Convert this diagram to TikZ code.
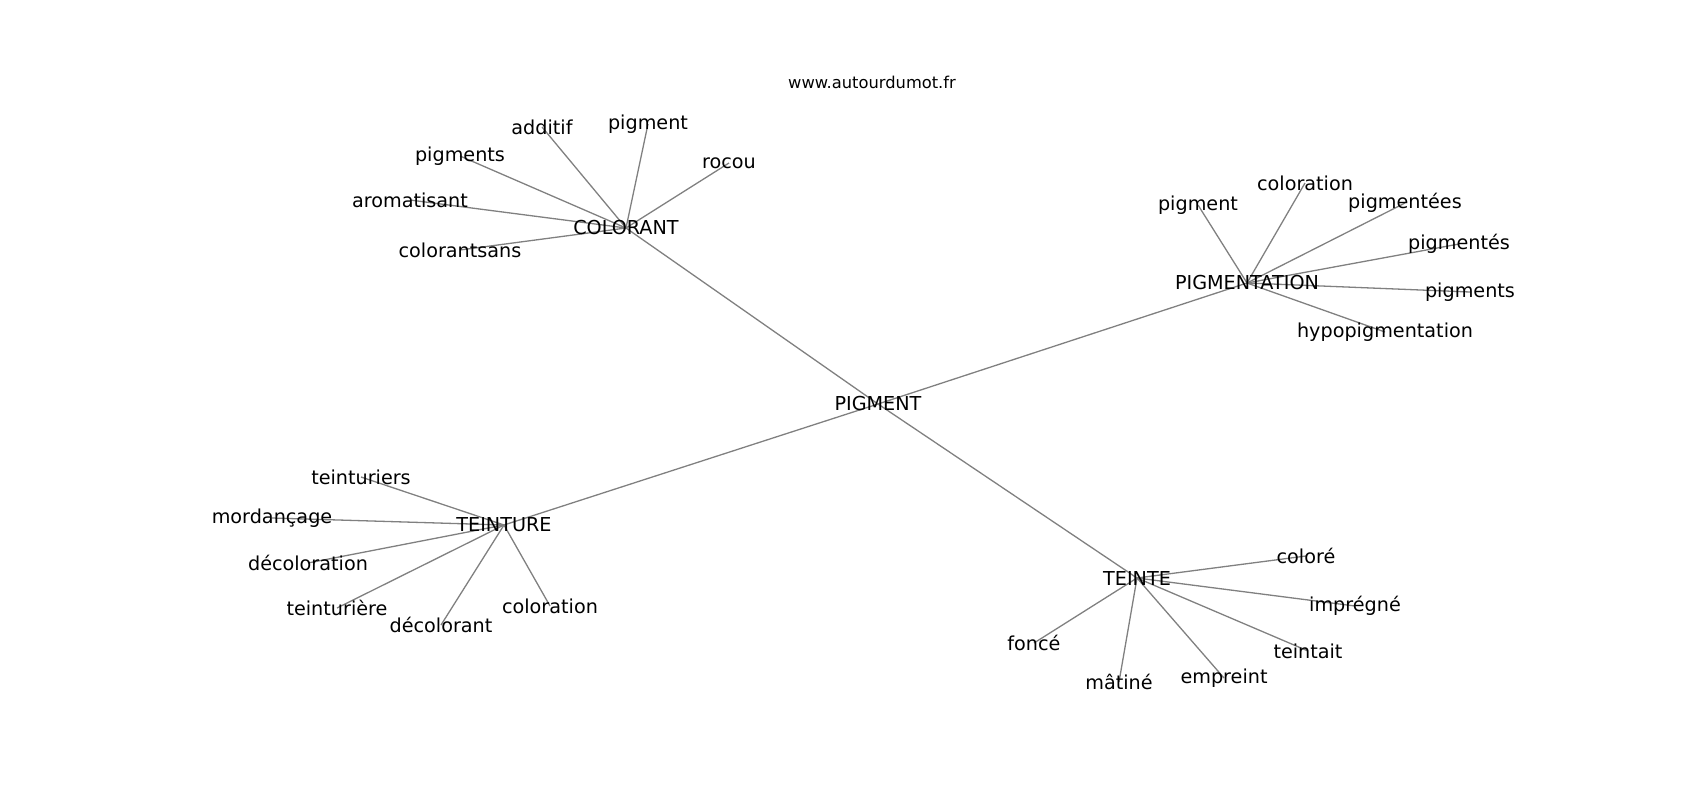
\documentclass[tikz,border=0pt]{standalone}
\usepackage{fontspec}
\setmainfont{DejaVu Sans}
\usetikzlibrary{backgrounds}
\tikzset{
  word/.style={inner sep=0pt, font=\fontsize{19.2}{23}\selectfont},
  hub/.style={word},
  link/.style={draw=gray, line width=1.3pt}
}
\begin{document}
\begin{tikzpicture}[x=1pt, y=-1pt]
\useasboundingbox (0,0) rectangle (1700,800);

	\node (site) [font=\fontsize{16.3}{20}\selectfont] at (872,82) {www.autourdumot.fr};
 \node (pig) [hub] at (878,404) {PIGMENT};
 % COLORANT
 \node (col) [hub] at (626,228) {COLORANT};
 \node (cadd) [word] at (542,127) {additif};
 \node (cpig) [word] at (648,124) {pigment};
 \node (cpigs) [word] at (460,156) {pigments};
 \node (croc) [word] at (729,163) {rocou};
 \node (carom) [word] at (410,200) {aromatisant};
 \node (csans) [word] at (460,250) {colorantsans};
 % PIGMENTATION
 \node (pgt) [hub] at (1247,283) {PIGMENTATION};
 \node (ppig) [word] at (1198,205) {pigment};
 \node (pcol) [word] at (1305,183) {coloration};
 \node (pees) [word] at (1405,203) {pigmentées};
 \node (pes) [word] at (1459,244) {pigmentés};
 \node (ppigs) [word] at (1470,292) {pigments};
 \node (phypo) [word] at (1385,332) {hypopigmentation};
 % TEINTURE
 \node (ttre) [hub] at (504,525) {TEINTURE};
 \node (tiers) [word] at (361,477) {teinturiers};
 \node (tmord) [word] at (272,518) {mordançage};
 \node (tdeco) [word] at (308,563) {décoloration};
 \node (tiere) [word] at (337,608) {teinturière};
 \node (tdecant) [word] at (441,625) {décolorant};
 \node (tcol) [word] at (550,606) {coloration};
 % TEINTE
 \node (tte) [hub] at (1137,578) {TEINTE};
 \node (ecol) [word] at (1306,556) {coloré};
 \node (eimp) [word] at (1355,606) {imprégné};
 \node (eteint) [word] at (1308,651) {teintait};
 \node (eemp) [word] at (1224,678) {empreint};
 \node (emat) [word] at (1119,682) {mâtiné};
 \node (efon) [word] at (1034,643) {foncé};

\begin{scope}[on background layer]
 \foreach \h in {col,pgt,ttre,tte}
  \path [link] (pig.center) -- (\h.center);
 \foreach \w in {cadd,cpig,cpigs,croc,carom,csans}
  \path [link] (col.center) -- (\w.center);
 \foreach \w in {ppig,pcol,pees,pes,ppigs,phypo}
  \path [link] (pgt.center) -- (\w.center);
 \foreach \w in {tiers,tmord,tdeco,tiere,tdecant,tcol}
  \path [link] (ttre.center) -- (\w.center);
 \foreach \w in {ecol,eimp,eteint,eemp,emat,efon}
  \path [link] (tte.center) -- (\w.center);
\end{scope}
\end{tikzpicture}
\end{document}
